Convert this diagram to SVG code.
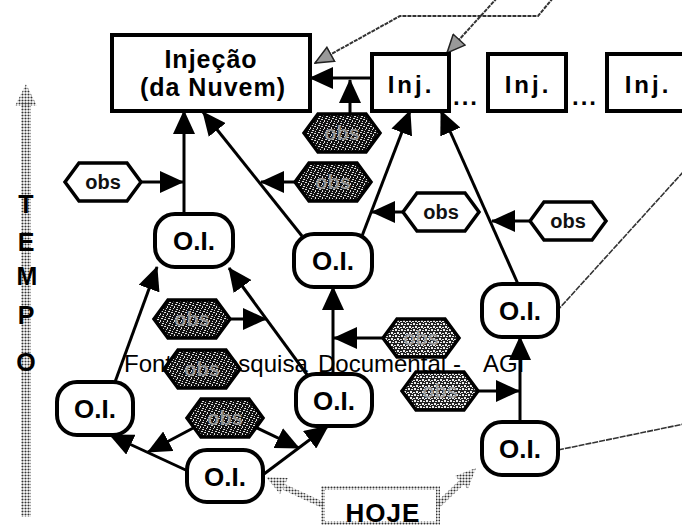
<svg xmlns="http://www.w3.org/2000/svg" xmlns:xlink="http://www.w3.org/1999/xlink" width="682" height="530" viewBox="0 0 682 530">
<style>
.box{fill:#fff;stroke:#000;stroke-width:4}
.oi{fill:#fff;stroke:#000;stroke-width:4}
.lbl{font-family:"Liberation Sans",Arial,sans-serif;font-weight:bold;fill:#000;text-anchor:middle}
.hl use{fill:#fff;stroke:#000;stroke-width:3.5}
.hd use{fill:url(#grain);stroke:#000;stroke-width:3.5}
.hm use{fill:url(#grain2);stroke:#000;stroke-width:3.5}
.hl text{font-family:"Liberation Sans",Arial,sans-serif;font-weight:bold;font-size:20px;fill:#111;text-anchor:middle}
.hd text,.hm text{font-family:"Liberation Sans",Arial,sans-serif;font-weight:bold;font-size:20px;fill:#aaa;text-anchor:middle;opacity:0.8}
.c{stroke:#000;stroke-width:3;fill:none;marker-end:url(#ah)}
.g{stroke:#333;stroke-width:2;fill:none;stroke-dasharray:4 1}
.thin{stroke:#333;stroke-width:1.6;fill:none;stroke-dasharray:6 1}
.dot{stroke:url(#dots);stroke-width:6;fill:none}
</style>
<defs>
<polygon id="hex" points="-38,0 -24,-19 24,-19 38,0 24,19 -24,19"/>
<marker id="ah" markerUnits="userSpaceOnUse" markerWidth="24" markerHeight="22" refX="23" refY="11" orient="auto" viewBox="0 0 24 22"><path d="M0,0 L24,11 L0,22 z" fill="#000"/></marker>
<marker id="gah" markerUnits="userSpaceOnUse" markerWidth="20" markerHeight="18" refX="19" refY="9" orient="auto" viewBox="0 0 20 18"><path d="M1,1 L19,9 L1,17 z" fill="#999" stroke="#222" stroke-width="1.5"/></marker>
<pattern id="grain" width="7" height="7" patternUnits="userSpaceOnUse">
<rect width="7" height="7" fill="#111"/>
<rect x="0" y="0" width="2" height="1" fill="#ddd"/>
<rect x="3" y="1" width="1" height="2" fill="#ddd"/>
<rect x="5" y="4" width="2" height="1" fill="#ddd"/>
<rect x="1" y="5" width="1" height="1" fill="#ddd"/>
<rect x="4" y="6" width="2" height="1" fill="#ddd"/>
<rect x="6" y="2" width="1" height="1" fill="#ddd"/>
<rect x="2" y="3" width="1" height="1" fill="#ddd"/>
</pattern>
<pattern id="grain2" width="6" height="6" patternUnits="userSpaceOnUse">
<rect width="6" height="6" fill="#222"/>
<rect x="0" y="0" width="2" height="2" fill="#eee"/>
<rect x="3" y="1" width="2" height="1" fill="#eee"/>
<rect x="4" y="3" width="2" height="2" fill="#eee"/>
<rect x="1" y="4" width="2" height="1" fill="#eee"/>
<rect x="2" y="2" width="1" height="1" fill="#eee"/>
</pattern>
<pattern id="dots" width="3" height="3" patternUnits="userSpaceOnUse"><circle cx="1.5" cy="1.5" r="1.05" fill="#333"/></pattern>
</defs>
<rect width="682" height="530" fill="#fff"/>

<g id="connectors">
<line class="c" x1="372" y1="78" x2="310" y2="78"/>
<line class="c" x1="350" y1="114" x2="350" y2="80"/>
<line class="c" x1="184" y1="214" x2="184" y2="111"/>
<line class="c" x1="141" y1="182" x2="183" y2="182"/>
<line class="c" x1="302" y1="236" x2="203" y2="112"/>
<line class="c" x1="296" y1="182" x2="261" y2="182"/>
<line class="c" x1="362" y1="236" x2="410" y2="111"/>
<line class="c" x1="403" y1="212" x2="372" y2="212"/>
<line class="c" x1="518" y1="284" x2="441" y2="111"/>
<line class="c" x1="530" y1="221" x2="492" y2="221"/>
<line class="c" x1="333" y1="374" x2="333" y2="287"/>
<line class="c" x1="383" y1="338" x2="334" y2="338"/>
<line class="c" x1="520" y1="422" x2="520" y2="337"/>
<line class="c" x1="478" y1="391" x2="519" y2="391"/>
<line class="c" x1="115" y1="382" x2="157" y2="267"/>
<line class="c" x1="308" y1="376" x2="229" y2="268"/>
<line class="c" x1="230" y1="319" x2="266" y2="319"/>
<line class="c" x1="190" y1="472" x2="110" y2="435"/>
<line class="c" x1="264" y1="474" x2="328" y2="426"/>
<line class="c" x1="197" y1="426" x2="148" y2="452"/>
<line class="c" x1="253" y1="426" x2="299" y2="448"/>
<polyline class="g" points="553,-2 538,16 400,16 315,63" marker-end="url(#gah)"/>
<line class="g" x1="497" y1="-2" x2="447" y2="53" marker-end="url(#gah)"/>
<line class="thin" x1="557" y1="311" x2="684" y2="171"/>
<line class="thin" x1="558" y1="450" x2="684" y2="424"/>
<polyline class="dot" points="323,505 284,487"/>
<polygon points="266,477 288,478 280,494" fill="url(#dots)"/>
<polyline class="dot" points="438,505 462,482"/>
<polygon points="476,468 468,489 455,476" fill="url(#dots)"/>
</g>

<text x="124" y="372" font-family="Liberation Sans, Arial, sans-serif" font-size="24" fill="#000">Fonte: <tspan x="209">Pesquisa</tspan> <tspan x="318">Documental</tspan> <tspan x="453">-</tspan> <tspan x="483">AGI</tspan></text>

<g id="tempo">
<rect x="21" y="102" width="10" height="415" fill="url(#dots)"/>
<polygon points="26,84 15,106 37,106" fill="url(#dots)"/>
<text class="lbl" x="26" y="213" font-size="25">T</text>
<text class="lbl" x="26" y="251" font-size="25">E</text>
<text class="lbl" x="27" y="285" font-size="25">M</text>
<text class="lbl" x="26" y="324" font-size="25">P</text>
<text class="lbl" x="26" y="371" font-size="25">O</text>
</g>

<g id="hoje">
<rect x="323" y="488" width="115" height="35" fill="none" stroke="url(#dots)" stroke-width="4"/>
<text x="383" y="522" font-family="Liberation Sans, Arial, sans-serif" font-size="26" font-weight="bold" letter-spacing="1" fill="#000" text-anchor="middle">HOJE</text>
</g>

<g id="injecao">
<rect class="box" x="112" y="35" width="198" height="76"/>
<text class="lbl" x="211" y="68" font-size="25" letter-spacing="1">Injeção</text>
<text class="lbl" x="213" y="96" font-size="25" letter-spacing="1">(da Nuvem)</text>
</g>
<g id="inj1"><rect class="box" x="372" y="54" width="77" height="57"/><text class="lbl" x="411" y="93" font-size="24" letter-spacing="3">Inj.</text></g>
<g id="inj2"><rect class="box" x="488" y="54" width="78" height="57"/><text class="lbl" x="528" y="93" font-size="24" letter-spacing="3">Inj.</text></g>
<g id="inj3"><rect class="box" x="607" y="54" width="80" height="57"/><text class="lbl" x="648" y="93" font-size="24" letter-spacing="3">Inj.</text></g>
<text class="lbl" x="466" y="105" font-size="24" letter-spacing="2">...</text>
<text class="lbl" x="585" y="105" font-size="24" letter-spacing="2">...</text>

<g id="oiA"><rect class="oi" x="155" y="214" width="78" height="53" rx="20"/><text class="lbl" x="194" y="250" font-size="26">O.I.</text></g>
<g id="oiB"><rect class="oi" x="294" y="234" width="78" height="53" rx="20"/><text class="lbl" x="333" y="270" font-size="26">O.I.</text></g>
<g id="oiC"><rect class="oi" x="482" y="284" width="76" height="53" rx="20"/><text class="lbl" x="520" y="320" font-size="26">O.I.</text></g>
<g id="oiD"><rect class="oi" x="57" y="382" width="76" height="53" rx="20"/><text class="lbl" x="95" y="418" font-size="26">O.I.</text></g>
<g id="oiE"><rect class="oi" x="187" y="450" width="76" height="52" rx="20"/><text class="lbl" x="225" y="486" font-size="26">O.I.</text></g>
<g id="oiF"><rect class="oi" x="296" y="374" width="76" height="52" rx="20"/><text class="lbl" x="334" y="410" font-size="26">O.I.</text></g>
<g id="oiG"><rect class="oi" x="482" y="422" width="76" height="53" rx="20"/><text class="lbl" x="520" y="458" font-size="26">O.I.</text></g>

<g id="obs1" class="hl"><use href="#hex" x="103" y="182"/><text x="103" y="189">obs</text></g>
<g id="obs2" class="hd"><use href="#hex" x="342" y="133"/><text x="342" y="140">obs</text></g>
<g id="obs3" class="hd"><use href="#hex" x="333" y="182"/><text x="333" y="189">obs</text></g>
<g id="obs4" class="hl"><use href="#hex" x="441" y="212"/><text x="441" y="219">obs</text></g>
<g id="obs5" class="hl"><use href="#hex" x="568" y="221"/><text x="568" y="228">obs</text></g>
<g id="obs6" class="hd"><use href="#hex" x="192" y="319"/><text x="192" y="326">obs</text></g>
<g id="obs7" class="hd"><use href="#hex" x="202" y="369"/><text x="202" y="376">obs</text></g>
<g id="obs8" class="hd"><use href="#hex" x="225" y="418"/><text x="225" y="425">obs</text></g>
<g id="obs9" class="hm"><use href="#hex" x="421" y="338"/><text x="421" y="345">obs</text></g>
<g id="obs10" class="hm"><use href="#hex" x="440" y="391"/><text x="440" y="398">obs</text></g>
</svg>
